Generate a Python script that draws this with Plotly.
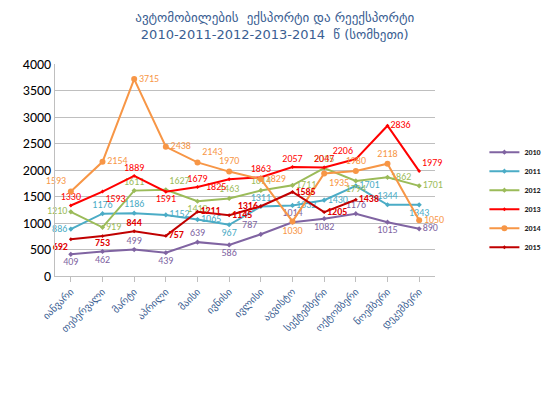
import plotly.graph_objects as go

months = ['იანვარი', 'თებერვალი', 'მარტი', 'აპრილი', 'მაისი', 'ივნისი',
          'ივლისი', 'აგვისტო', 'სექტემბერი', 'ოქტომბერი', 'ნოემბერი', 'დეკემბერი']

y2010 = [409, 462, 499, 439, 639, 586, 787, 1014, 1082, 1176, 1015, 890]
y2011 = [886, 1176, 1186, 1152, 1065, 967, 1311, 1332, 1430, 1701, 1344, 1343]
y2012 = [1210, 919, 1611, 1627, 1410, 1463, 1614, 1711, 2035, 1794, 1862, 1701]
y2013 = [1330, 1593, 1889, 1591, 1679, 1825, 1863, 2057, 2047, 2206, 2836, 1979]
y2014 = [1593, 2154, 3715, 2438, 2143, 1970, 1829, 1030, 1935, 1980, 2118, 1050]
y2015 = [692, 753, 844, 757, 1211, 1145, 1316, 1585, 1205, 1438]

# where each data label sits relative to its point
pos2010 = ['bottom center', 'bottom center', 'top center', 'bottom center', 'top center',
           'bottom center', 'top left', 'top center', 'bottom center', 'top center',
           'bottom center', 'middle right']
pos2011 = ['middle left', 'top center', 'top center', 'middle right', 'middle right',
           'bottom center', 'top center', 'middle right', 'middle right', 'middle right',
           'top center', 'bottom center']
pos2012 = ['middle left', 'middle right', 'top center', 'top right', 'bottom center',
           'top center', 'top center', 'middle right', 'top center', 'bottom center',
           'middle right', 'middle right']
pos2013 = ['top center', 'bottom right', 'top center', 'bottom center', 'top center',
           'bottom left', 'top center', 'top center', 'top center', 'top left',
           'middle right', 'top right']
pos2014 = ['top left', 'middle right', 'middle right', 'middle right', 'top right',
           'top center', 'middle right', 'bottom center', 'bottom right', 'top center',
           'top center', 'middle right']
pos2015 = ['bottom left', 'bottom center', 'top center', 'middle right', 'middle right',
           'middle right', 'middle left', 'middle right', 'middle right', 'middle right']

series = [
    ('2010', y2010, pos2010, '#8064A2', 4, 'diamond', 'normal'),
    ('2011', y2011, pos2011, '#4BACC6', 4, 'diamond', 'normal'),
    ('2012', y2012, pos2012, '#9BBB59', 4, 'diamond', 'normal'),
    ('2013', y2013, pos2013, '#FF0000', 3, 'diamond', 'normal'),
    ('2014', y2014, pos2014, '#F79646', 6, 'circle', 'normal'),
    ('2015', y2015, pos2015, '#C00000', 3, 'diamond', 'bold'),
]

fig = go.Figure()
for name, vals, pos, color, msize, sym, weight in series:
    fig.add_trace(go.Scatter(
        x=months[:len(vals)],
        y=vals,
        name=name,
        mode='lines+markers+text',
        line=dict(color=color, width=2),
        marker=dict(color=color, size=msize, symbol=sym),
        text=[str(v) for v in vals],
        textposition=pos,
        textfont=dict(color=color if name != '2015' else '#E00000', size=10,
                      weight=weight, family='Calibri, Carlito, Lato'),
        cliponaxis=False,
    ))

fig.update_layout(
    width=550, height=412,
    paper_bgcolor='white', plot_bgcolor='white',
    margin=dict(l=47, r=119, t=56, b=144),
    font=dict(family='Calibri, Carlito, DejaVu Sans'),
    title=dict(
        text='ავტომობილების  ექსპორტი და რეექსპორტი<br>2010-2011-2012-2013-2014  წ (სომხეთი)',
        x=0.485, xanchor='center', y=0.965, yanchor='top',
        font=dict(size=13, color='#3A5E92', family='DejaVu Sans'),
    ),
    showlegend=True,
    legend=dict(
        x=1.13, y=0.36, xanchor='left', yanchor='middle',
        font=dict(size=8, color='#222222', weight='bold'),
        itemwidth=30, tracegroupgap=0,
        bgcolor='rgba(0,0,0,0)',
    ),
)
fig.update_xaxes(
    type='category', range=[-0.5, 11.5], automargin=False,
    showline=True, linecolor='#BFBFBF', linewidth=1,
    ticks='outside', ticklen=5, tickcolor='#BFBFBF',
    showgrid=False,
    tickangle=-45,
    tickfont=dict(size=10, color='#3A5E92', family='DejaVu Sans'),
)
fig.update_yaxes(
    range=[0, 4000], dtick=500, automargin=False,
    showline=True, linecolor='#BFBFBF', linewidth=1,
    showgrid=True, gridcolor='#BFBFBF', gridwidth=1,
    zeroline=False,
    tickfont=dict(size=14, color='black'),
)

fig.write_html('out.html')
